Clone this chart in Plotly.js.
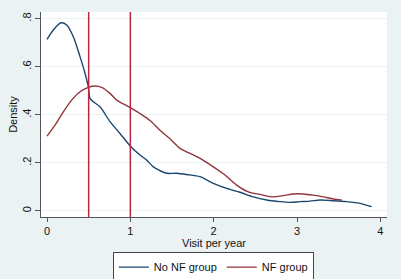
<!DOCTYPE html>
<html>
<head>
<meta charset="utf-8">
<script src="https://cdn.plot.ly/plotly-3.0.1.min.js"></script>
<style>html,body{margin:0;padding:0;background:#EAF2F3;}#chart{width:401px;height:279px;}</style>
</head>
<body>
<div id="chart"></div>
<script>
// No NF group density
var noNfX = [0.0, 0.076, 0.168, 0.236, 0.316, 0.396, 0.456, 0.496, 0.516, 0.556, 0.636, 0.756, 0.876, 0.996, 1.116, 1.196, 1.276, 1.356, 1.436, 1.556, 1.676, 1.836, 1.996, 2.156, 2.316, 2.476, 2.636, 2.796, 2.916, 3.036, 3.156, 3.276, 3.436, 3.596, 3.756, 3.896];
var noNfY = [0.714, 0.753, 0.783, 0.774, 0.725, 0.642, 0.573, 0.517, 0.468, 0.454, 0.433, 0.371, 0.322, 0.271, 0.232, 0.211, 0.183, 0.167, 0.156, 0.156, 0.151, 0.142, 0.114, 0.093, 0.077, 0.058, 0.045, 0.038, 0.035, 0.038, 0.040, 0.045, 0.042, 0.038, 0.031, 0.017];
// NF group density
var nfX = [0.0, 0.096, 0.196, 0.296, 0.396, 0.496, 0.576, 0.656, 0.756, 0.836, 0.916, 0.996, 1.116, 1.236, 1.356, 1.476, 1.596, 1.716, 1.836, 1.996, 2.136, 2.276, 2.416, 2.556, 2.696, 2.836, 2.956, 3.076, 3.196, 3.316, 3.436, 3.536];
var nfY = [0.311, 0.357, 0.412, 0.461, 0.496, 0.514, 0.520, 0.514, 0.489, 0.461, 0.445, 0.431, 0.405, 0.376, 0.335, 0.300, 0.260, 0.239, 0.218, 0.183, 0.149, 0.107, 0.079, 0.068, 0.058, 0.063, 0.070, 0.070, 0.065, 0.058, 0.049, 0.045];
// reference lines
var vlines = [0.5, 1];
var xTicks = [0, 1, 2, 3, 4];
var xTickText = ['0', '1', '2', '3', '4'];
var yTicks = [0, 0.2, 0.4, 0.6, 0.8];
var yTickText = ['0', '.2', '.4', '.6', '.8'];
var seriesNames = ['No NF group', 'NF group'];
var yTitle = 'Density';
var xTitle = 'Visit per year';

var traces = [
  {x: noNfX, y: noNfY, type: 'scatter', mode: 'lines', name: seriesNames[0],
   line: {color: '#1A476F', width: 1.4, shape: 'spline', smoothing: 0.8}},
  {x: nfX, y: nfY, type: 'scatter', mode: 'lines', name: seriesNames[1],
   line: {color: '#90353B', width: 1.4, shape: 'spline', smoothing: 0.8}}
];

var shapes = vlines.map(function(v){
  return {type: 'line', xref: 'x', yref: 'paper', x0: v, x1: v, y0: 0, y1: 1,
          line: {color: '#BE2344', width: 1.5}};
});

var layout = {
  width: 401, height: 279,
  margin: {l: 41, r: 14, t: 12, b: 62, pad: 0, autoexpand: false},
  paper_bgcolor: '#EAF2F3',
  plot_bgcolor: '#FFFFFF',
  font: {family: 'Liberation Sans, Arial, sans-serif', size: 11, color: '#111'},
  showlegend: true,
  legend: {orientation: 'h', xref: 'container', yref: 'container',
           x: 0.532, xanchor: 'center', y: 0.098, yanchor: 'top',
           bgcolor: '#FFFFFF', bordercolor: '#444', borderwidth: 1,
           font: {size: 11}, itemclick: false},
  xaxis: {range: [-0.072, 4.08], tickvals: xTicks, ticktext: xTickText,
          ticks: 'outside', ticklen: 4, tickcolor: '#555', showline: true, linecolor: '#555',
          linewidth: 1, showgrid: false, zeroline: false,
          title: {text: xTitle, standoff: 0, font: {size: 11}}},
  yaxis: {range: [-0.026, 0.828], tickvals: yTicks, ticktext: yTickText, tickangle: -90,
          ticks: 'outside', ticklen: 5, tickcolor: '#555', showline: true, linecolor: '#555',
          linewidth: 1, showgrid: true, gridcolor: '#EAF2F3', gridwidth: 1, zeroline: false,
          title: {text: yTitle, standoff: 0, font: {size: 11}}},
  shapes: shapes
};

Plotly.newPlot('chart', traces, layout, {displayModeBar: false, staticPlot: true});
</script>
</body>
</html>
